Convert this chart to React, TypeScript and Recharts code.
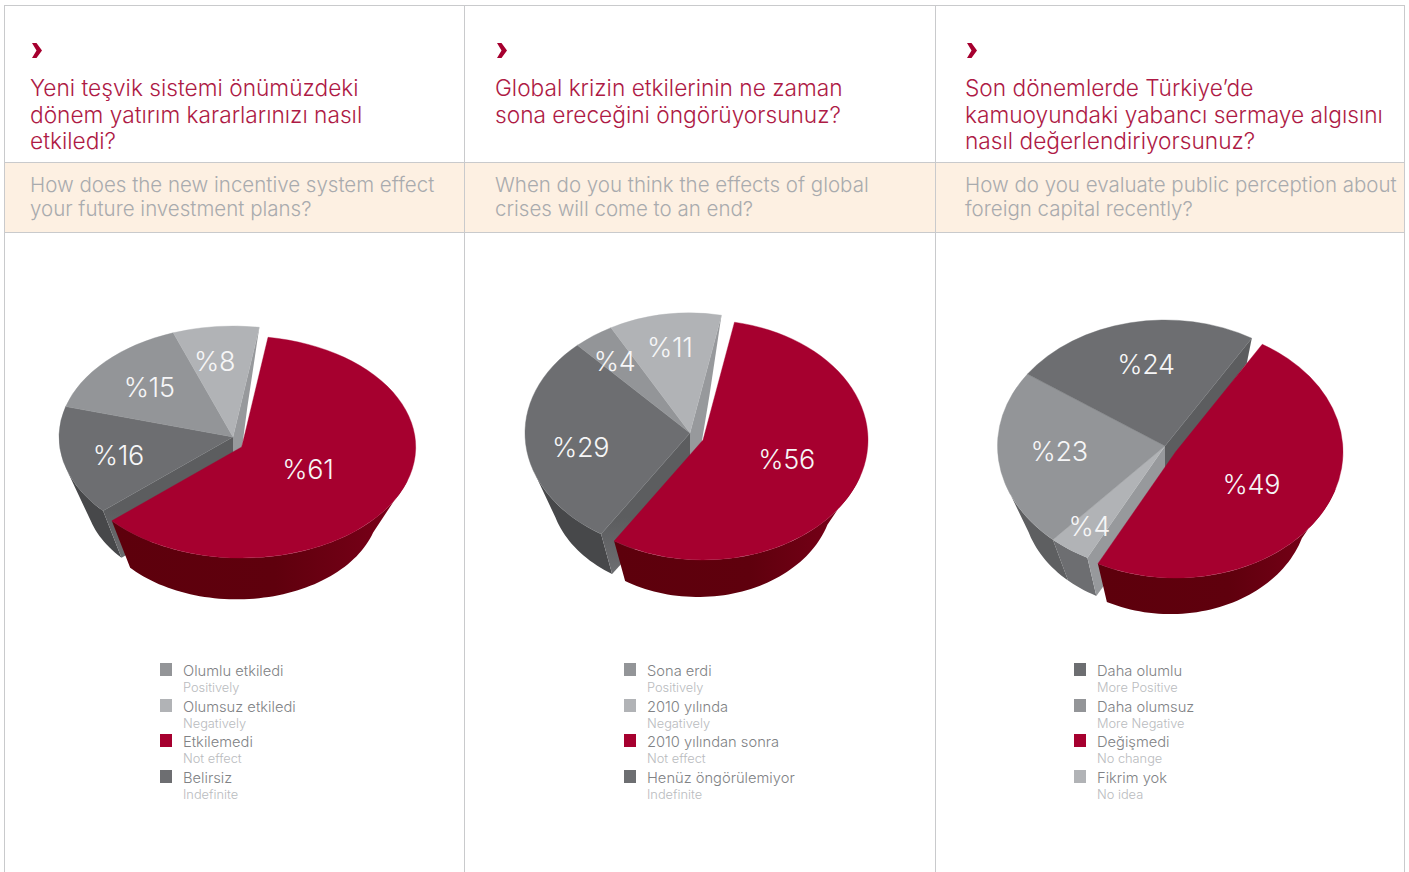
import React from "react";
import { PieChart, Pie } from "recharts";

// ---- data (listed in draw order: the exploded red slice comes last) ----
const valuesA = [16, 15, 8, 61];
const tonesA = ["dark", "mid", "light", "red"];
const valuesB = [29, 4, 11, 56];
const tonesB = ["dark", "mid", "light", "red"];
const valuesC = [4, 23, 24, 49];
const tonesC = ["light", "mid", "dark", "red"];

const titlesA = ["Yeni teşvik sistemi önümüzdeki", "dönem yatırım kararlarınızı nasıl", "etkiledi?"];
const titlesB = ["Global krizin etkilerinin ne zaman", "sona ereceğini öngörüyorsunuz?"];
const titlesC = ["Son dönemlerde Türkiye’de", "kamuoyundaki yabancı sermaye algısını", "nasıl değerlendiriyorsunuz?"];
const subtitlesA = ["How does the new incentive system effect", "your future investment plans?"];
const subtitlesB = ["When do you think the effects of global", "crises will come to an end?"];
const subtitlesC = ["How do you evaluate public perception about", "foreign capital recently?"];

const legendNamesA = ["Olumlu etkiledi", "Olumsuz etkiledi", "Etkilemedi", "Belirsiz"];
const legendNamesB = ["Sona erdi", "2010 yılında", "2010 yılından sonra", "Henüz öngörülemiyor"];
const legendNamesC = ["Daha olumlu", "Daha olumsuz", "Değişmedi", "Fikrim yok"];
const legendEnAB = ["Positively", "Negatively", "Not effect", "Indefinite"];
const legendEnC = ["More Positive", "More Negative", "No change", "No idea"];
const legendTonesAB = ["mid", "light", "red", "dark"];
const legendTonesC = ["dark", "mid", "red", "light"];

// ---- styling ----
const FONT = "Inter, Roboto, 'Liberation Sans', sans-serif";
const TOP: Record<string, string> = { red: "#a6002f", dark: "#6d6e71", mid: "#939598", light: "#b1b3b6" };
const WALL: Record<string, string> = { dark: "#47484a", mid: "#5e5f61", light: "#6d6e71" };
const CUT: Record<string, string> = { dark: "#5c5d5f", mid: "#7c7d80", light: "#97999c" };

type Layout = {
  id: string; left: number; width: number; ax: number; ay: number; rx: number; ry: number;
  explode: [number, number]; depth: number; backCut: [number, number]; startT: number; reach: number[]; nudge: number[][];
};

const CHART_TOP = 233;
const CHART_H = 420;
const TAPER_X = 0.82;
const TAPER_Y = 0.85;
const BASE_SHIFT = -5;
const FRONT_FROM = 107;
const FRONT_TO = 253;

const layoutA: Layout = { id: "a", left: 5, width: 459, ax: 233, ay: 437, rx: 174, ry: 111, explode: [8.7, 10], depth: 58, backCut: [-12, 80], startT: 228.3, reach: [0.67, 0.65, 0.78, 0.44], nudge: [[-1, 2], [-1, 0], [-5, 11], [-1, -1]] };
const layoutB: Layout = { id: "b", left: 465, width: 470, ax: 690, ay: 433, rx: 165, ry: 120, explode: [13, 7], depth: 55, backCut: [-12, 80], startT: 212.6, reach: [0.66, 0.75, 0.72, 0.5], nudge: [[-1, 7], [-3, 1], [-2, 0], [7, -3]] };
const layoutC: Layout = { id: "c", left: 936, width: 468, ax: 1165, ay: 446, rx: 167.5, ry: 126, explode: [10.5, 6], depth: 55, backCut: [-5, 25], startT: 207.6, reach: [0.78, 0.63, 0.66, 0.52], nudge: [[-1, 0], [-1, -4], [4, 0], [0, 0]] };

const rad = (d: number) => (d * Math.PI) / 180;

function makeShape(l: Layout, count: number) {
  return function Slice3D(props: any) {
    const { cx, cy, outerRadius, startAngle, endAngle, fill, index, payload } = props;
    const tone = payload.tone as string;
    const isRed = index === count - 1;
    const ox = cx + (isRed ? l.explode[0] : 0);
    const oy = cy + (isRed ? l.explode[1] : 0);
    const rx = outerRadius;
    const ry = l.ry;
    const top = (t: number) => [ox + rx * Math.sin(rad(t)), oy - ry * Math.cos(rad(t))];
    const bot = (t: number) => [ox + BASE_SHIFT + rx * TAPER_X * Math.sin(rad(t)), oy + l.depth - ry * TAPER_Y * Math.cos(rad(t))];
    let t0 = 90 - startAngle;
    let t1 = 90 - endAngle;
    while (t0 >= 360) { t0 -= 360; t1 -= 360; }
    while (t0 < 0) { t0 += 360; t1 += 360; }
    const [sx, sy] = top(t0);
    const [ex, ey] = top(t1);
    const face = `M${ox},${oy}L${sx},${sy}A${rx},${ry} 0 ${t1 - t0 > 180 ? 1 : 0} 1 ${ex},${ey}Z`;

    const a = Math.max(t0, FRONT_FROM);
    const b = Math.min(t1, FRONT_TO);
    let wall = "";
    if (b > a) {
      const upper: number[][] = [];
      const lower: number[][] = [];
      for (let t = a; ; t += 2) {
        const tt = Math.min(t, b);
        upper.push(top(tt));
        lower.unshift(bot(tt));
        if (tt >= b) break;
      }
      wall = "M" + [...upper, ...lower].map((p) => p.join(",")).join("L") + "Z";
    }
    const gradId = `${l.id}-${index}`;
    let startCut = "";
    let endCut = "";
    if (index === 0) {
      const [bx, by] = bot(t0);
      startCut = `M${ox},${oy}L${sx},${sy}L${bx},${by}L${ox},${oy + l.depth}Z`;
    }
    if (index === count - 2) {
      const [vx, vy] = l.backCut;
      endCut = `M${ox},${oy}L${ex},${ey}L${ex + vx},${ey + vy}L${ox},${oy + vy}Z`;
    }
    return (
      <g>
        <defs>
          <linearGradient id={`wall-${gradId}`} x1="0" y1="0" x2="1" y2="0">
            <stop offset="0" stopColor="#5d000c" />
            <stop offset="0.55" stopColor="#5f000d" />
            <stop offset="1" stopColor="#7c001a" />
          </linearGradient>
          <linearGradient id={`cut-${gradId}`} x1="0" y1="0" x2="0" y2="1">
            <stop offset="0.6" stopColor={CUT[tone] || fill} />
            <stop offset="1" stopColor={tone === "dark" ? "#6d6e71" : CUT[tone] || fill} />
          </linearGradient>
        </defs>
        {wall && <path d={wall} fill={isRed ? `url(#wall-${gradId})` : WALL[tone]} />}
        {startCut && <path d={startCut} fill={`url(#cut-${gradId})`} />}
        {endCut && <path d={endCut} fill={CUT[tone]} />}
        <path d={face} fill={fill} stroke={fill} strokeWidth={0.4} />
      </g>
    );
  };
}

function makeLabel(l: Layout, count: number) {
  return function SliceLabel(props: any) {
    const { cx, cy, midAngle, index, value } = props;
    const isRed = index === count - 1;
    const f = l.reach[index];
    const x = cx + (isRed ? l.explode[0] : 0) + l.rx * f * Math.cos(rad(midAngle)) + l.nudge[index][0];
    const y = cy + (isRed ? l.explode[1] : 0) - l.ry * f * Math.sin(rad(midAngle)) + l.nudge[index][1];
    return (
      <text x={x} y={y} textAnchor="middle" dominantBaseline="central" fill="#f6f6f7" fontFamily={FONT} fontWeight={300} fontSize={27} letterSpacing={-0.3}>
        {`%${value}`}
      </text>
    );
  };
}

function Pie3D({ l, values, tones }: { l: Layout; values: number[]; tones: string[] }) {
  const rows = values.map((value, i) => ({ value, tone: tones[i], fill: TOP[tones[i]] }));
  const start = 90 - l.startT;
  return (
    <div style={{ position: "absolute", left: l.left, top: CHART_TOP, width: l.width, height: CHART_H }}>
      <PieChart width={l.width} height={CHART_H} margin={{ top: 0, right: 0, bottom: 0, left: 0 }}>
        <Pie
          data={rows}
          dataKey="value"
          cx={l.ax - l.left}
          cy={l.ay - CHART_TOP}
          innerRadius={0}
          outerRadius={l.rx}
          startAngle={start}
          endAngle={start - 360}
          stroke="none"
          isAnimationActive={false}
          shape={makeShape(l, rows.length)}
          label={makeLabel(l, rows.length)}
          labelLine={false}
        />
      </PieChart>
    </div>
  );
}

function Lines({ x, ys, lines, style }: { x: number; ys: number[]; lines: string[]; style: React.CSSProperties }) {
  return (
    <>
      {lines.map((t, i) => (
        <div key={i} style={{ position: "absolute", left: x, top: ys[i] - 20, height: 40, lineHeight: "40px", whiteSpace: "nowrap", fontFamily: FONT, ...style }}>
          {t}
        </div>
      ))}
    </>
  );
}

function Header({ x, titles, subs }: { x: number; titles: string[]; subs: string[] }) {
  return (
    <>
      <svg style={{ position: "absolute", left: x + 2, top: 43 }} width={11} height={15}>
        <path d="M0 0H4.5L10 7.5L4.5 15H0L4.5 7.5Z" fill="#a6002f" />
      </svg>
      <Lines x={x} ys={[88, 115, 141]} lines={titles} style={{ color: "#ae1a45", fontSize: 22.7, fontWeight: 300 }} />
      <Lines x={x} ys={[185, 209]} lines={subs} style={{ color: "#a9abae", fontSize: 20.5, fontWeight: 300 }} />
    </>
  );
}

function LegendBlock({ x, names, en, tones }: { x: number; names: string[]; en: string[]; tones: string[] }) {
  const rows = [671, 706.5, 742, 777.5];
  return (
    <>
      {names.map((n, i) => (
        <React.Fragment key={n}>
          <div style={{ position: "absolute", left: x, top: rows[i] - 8, width: 12, height: 13, background: TOP[tones[i]] }} />
          <Lines x={x + 23} ys={[rows[i]]} lines={[n]} style={{ color: "#808285", fontSize: 14.7, fontWeight: 300 }} />
          <Lines x={x + 23} ys={[rows[i] + 17]} lines={[en[i]]} style={{ color: "#b9bbbe", fontSize: 12.8, fontWeight: 300 }} />
        </React.Fragment>
      ))}
    </>
  );
}

const LINE = "#c9cacc";

export default function App() {
  const rule = (s: React.CSSProperties) => <div style={{ position: "absolute", background: LINE, ...s }} />;
  return (
    <div style={{ position: "absolute", left: 0, top: 0, width: 1409, height: 872, background: "#fff", overflow: "hidden" }}>
      <div style={{ position: "absolute", left: 5, top: 163, width: 1399, height: 69, background: "#fdf0e2" }} />
      {rule({ left: 4, top: 5, width: 1401, height: 1 })}
      {rule({ left: 4, top: 162, width: 1401, height: 1 })}
      {rule({ left: 4, top: 232, width: 1401, height: 1 })}
      {rule({ left: 4, top: 5, width: 1, height: 867 })}
      {rule({ left: 464, top: 5, width: 1, height: 867 })}
      {rule({ left: 935, top: 5, width: 1, height: 867 })}
      {rule({ left: 1404, top: 5, width: 1, height: 867 })}

      <Header x={30} titles={titlesA} subs={subtitlesA} />
      <Header x={495} titles={titlesB} subs={subtitlesB} />
      <Header x={965} titles={titlesC} subs={subtitlesC} />

      <Pie3D l={layoutA} values={valuesA} tones={tonesA} />
      <Pie3D l={layoutB} values={valuesB} tones={tonesB} />
      <Pie3D l={layoutC} values={valuesC} tones={tonesC} />

      <LegendBlock x={160} names={legendNamesA} en={legendEnAB} tones={legendTonesAB} />
      <LegendBlock x={624} names={legendNamesB} en={legendEnAB} tones={legendTonesAB} />
      <LegendBlock x={1074} names={legendNamesC} en={legendEnC} tones={legendTonesC} />
    </div>
  );
}
